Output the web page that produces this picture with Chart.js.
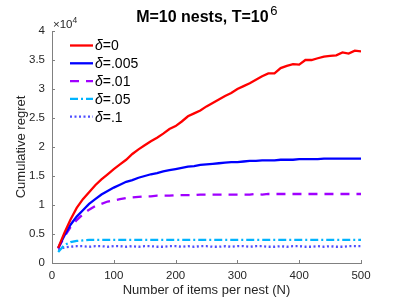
<!DOCTYPE html>
<html>
<head>
<meta charset="utf-8">
<script src="https://cdn.jsdelivr.net/npm/chart.js@4.4.1/dist/chart.umd.min.js"></script>
<style>
  html, body { margin: 0; padding: 0; background: #fff; }
  #wrap { width: 399px; height: 299px; }
</style>
</head>
<body>
<div id="wrap"><canvas id="myChart" width="399" height="299"></canvas></div>
<script>
// items per nest (N)
const nValues = [10, 20, 30, 40, 50, 60, 70, 80, 90, 100,
  110, 120, 130, 140, 150, 160, 170, 180, 190, 200,
  210, 220, 230, 240, 250, 260, 270, 280, 290, 300,
  310, 320, 330, 340, 350, 360, 370, 380, 390, 400,
  410, 420, 430, 440, 450, 460, 470, 480, 490, 500];

// cumulative regret, in units of 10^4
const delta0 = [0.26, 0.52, 0.75, 0.95, 1.10, 1.22, 1.34, 1.44, 1.53, 1.62,
  1.70, 1.78, 1.88, 1.96, 2.03, 2.10, 2.16, 2.23, 2.31, 2.36,
  2.44, 2.53, 2.58, 2.63, 2.70, 2.76, 2.82, 2.88, 2.93, 3.00,
  3.05, 3.10, 3.16, 3.22, 3.27, 3.27, 3.36, 3.40, 3.43, 3.42,
  3.50, 3.50, 3.53, 3.56, 3.57, 3.58, 3.63, 3.61, 3.66, 3.65];
const delta005 = [0.26, 0.47, 0.66, 0.80, 0.91, 1.02, 1.10, 1.18, 1.24, 1.30,
  1.35, 1.40, 1.43, 1.47, 1.50, 1.53, 1.55, 1.58, 1.60, 1.62,
  1.64, 1.66, 1.67, 1.69, 1.70, 1.71, 1.72, 1.73, 1.74, 1.74,
  1.75, 1.76, 1.76, 1.77, 1.77, 1.77, 1.78, 1.78, 1.78, 1.79,
  1.79, 1.79, 1.79, 1.80, 1.80, 1.80, 1.80, 1.80, 1.80, 1.80];
const delta01 = [0.25, 0.45, 0.62, 0.74, 0.84, 0.92, 0.98, 1.02, 1.06, 1.08,
  1.10, 1.12, 1.13, 1.14, 1.15, 1.15, 1.16, 1.16, 1.16, 1.17,
  1.17, 1.17, 1.17, 1.18, 1.18, 1.18, 1.18, 1.18, 1.18, 1.18,
  1.18, 1.18, 1.19, 1.18, 1.19, 1.19, 1.19, 1.19, 1.19, 1.19,
  1.19, 1.19, 1.19, 1.19, 1.19, 1.19, 1.19, 1.19, 1.19, 1.19];
const delta05 = [0.19, 0.31, 0.36, 0.38, 0.39, 0.40, 0.40, 0.40, 0.40, 0.40,
  0.40, 0.40, 0.40, 0.40, 0.40, 0.40, 0.40, 0.40, 0.40, 0.40,
  0.40, 0.40, 0.40, 0.40, 0.40, 0.40, 0.40, 0.40, 0.40, 0.40,
  0.40, 0.40, 0.40, 0.40, 0.40, 0.40, 0.40, 0.40, 0.40, 0.40,
  0.40, 0.40, 0.40, 0.40, 0.40, 0.40, 0.40, 0.40, 0.40, 0.40];
const delta1 = [0.23, 0.27, 0.28, 0.29, 0.29, 0.28, 0.29, 0.29, 0.28, 0.29,
  0.29, 0.28, 0.29, 0.28, 0.29, 0.29, 0.28, 0.28, 0.29, 0.29,
  0.28, 0.29, 0.28, 0.29, 0.29, 0.28, 0.28, 0.29, 0.28, 0.29,
  0.29, 0.28, 0.29, 0.29, 0.28, 0.28, 0.29, 0.28, 0.29, 0.29,
  0.28, 0.28, 0.29, 0.28, 0.29, 0.28, 0.28, 0.29, 0.29, 0.29];

const seriesLabels = ['=0', '=.005', '=.01', '=.05', '=.1'];
const xTicks = [0, 100, 200, 300, 400, 500];
const yTicks = [0, 0.5, 1, 1.5, 2, 2.5, 3, 3.5, 4];

const FONT = "'Liberation Sans', Arial, Helvetica, sans-serif";
const TXT = '#262626';

function pts(ys) {
  return nValues.map((n, i) => ({x: n, y: ys[i]}));
}

// title with superscript, x10^4 label, inward ticks, legend inside the axes
const extras = {
  id: 'extras',
  afterDatasetsDraw(chart) {
    const c = chart.ctx;
    const area = chart.chartArea;
    const xs = chart.scales.x, ys = chart.scales.y;
    c.save();

    // inward tick marks
    c.strokeStyle = '#808080';
    c.lineWidth = 1;
    c.beginPath();
    xTicks.forEach(t => {
      const px = Math.round(xs.getPixelForValue(t)) + 0.5;
      c.moveTo(px, area.bottom);
      c.lineTo(px, area.bottom - 3);
    });
    yTicks.forEach(t => {
      const py = Math.round(ys.getPixelForValue(t)) + 0.5;
      c.moveTo(area.left, py);
      c.lineTo(area.left + 3, py);
    });
    c.stroke();

    // title
    c.fillStyle = '#000';
    c.textBaseline = 'alphabetic';
    c.font = 'bold 16px ' + FONT;
    const main = 'M=10 nests, T=10';
    c.font = '13px ' + FONT;
    const supW = c.measureText('6').width;
    c.font = 'bold 16px ' + FONT;
    const mainW = c.measureText(main).width;
    const tx = (area.left + area.right) / 2 - (mainW + supW + 1) / 2;
    c.textAlign = 'left';
    c.fillText(main, tx, 22);
    c.font = '13px ' + FONT;
    c.fillText('6', tx + mainW + 1.5, 15);

    // exponent
    c.fillStyle = TXT;
    c.font = '11.5px ' + FONT;
    c.fillText('\u00d710', area.left + 1, 28);
    const ew = c.measureText('\u00d710').width;
    c.font = '8.5px ' + FONT;
    c.fillText('4', area.left + 1 + ew, 23);

    // legend
    let ly = 45.5;
    chart.data.datasets.forEach(ds => {
      c.strokeStyle = ds.borderColor;
      c.lineWidth = ds.borderWidth;
      c.setLineDash(ds.borderDash || []);
      c.beginPath();
      c.moveTo(70, ly);
      c.lineTo(93, ly);
      c.stroke();
      c.setLineDash([]);
      c.fillStyle = '#000';
      c.textBaseline = 'middle';
      c.font = 'italic 14px ' + FONT;
      c.fillText('\u03b4', 95, ly + 1);
      const dw = c.measureText('\u03b4').width;
      c.font = '14px ' + FONT;
      c.fillText(ds.label, 95 + dw, ly + 1);
      ly += 17.8;
    });
    c.restore();
  }
};

const ctx = document.getElementById('myChart');

new Chart(ctx, {
  type: 'line',
  data: {
    datasets: [
      { label: seriesLabels[0], data: pts(delta0), borderColor: '#ff0000', borderWidth: 2.3, borderDash: [] },
      { label: seriesLabels[1], data: pts(delta005), borderColor: '#0000ff', borderWidth: 2.3, borderDash: [] },
      { label: seriesLabels[2], data: pts(delta01), borderColor: '#a000ff', borderWidth: 2.3, borderDash: [9, 7] },
      { label: seriesLabels[3], data: pts(delta05), borderColor: '#00b4ff', borderWidth: 2.3, borderDash: [8, 3, 2, 3] },
      { label: seriesLabels[4], data: pts(delta1), borderColor: '#4d4dff', borderWidth: 2.3, borderDash: [2, 2.5] }
    ]
  },
  options: {
    responsive: false,
    animation: false,
    layout: { padding: { top: 31, right: 38, left: 0, bottom: 0 } },
    elements: { point: { radius: 0 }, line: { tension: 0 } },
    plugins: {
      legend: { display: false },
      title: { display: false },
      tooltip: { enabled: false }
    },
    scales: {
      x: {
        type: 'linear',
        min: 0,
        max: 500,
        afterFit: s => { s.height = 36; },
        afterBuildTicks: s => { s.ticks = xTicks.map(v => ({value: v})); },
        grid: { display: false, drawTicks: false },
        border: { display: true, color: '#808080', width: 1 },
        ticks: { color: TXT, font: { family: FONT, size: 11.5 }, padding: 6, maxRotation: 0,
          callback: v => String(v) },
        title: {
          display: true,
          text: 'Number of items per nest (N)',
          color: TXT,
          font: { family: FONT, size: 13 },
          padding: { top: 0, bottom: 1 }
        }
      },
      y: {
        min: 0,
        max: 4,
        afterFit: s => { s.width = 52; },
        afterBuildTicks: s => { s.ticks = yTicks.map(v => ({value: v})); },
        grid: { display: false, drawTicks: false },
        border: { display: true, color: '#808080', width: 1 },
        ticks: { color: TXT, font: { family: FONT, size: 11.5 }, padding: 7,
          callback: v => String(v) },
        title: {
          display: true,
          text: 'Cumulative regret',
          color: TXT,
          font: { family: FONT, size: 13 },
          padding: { top: 14, bottom: 0 }
        }
      }
    }
  },
  plugins: [extras]
});
</script>
</body>
</html>
